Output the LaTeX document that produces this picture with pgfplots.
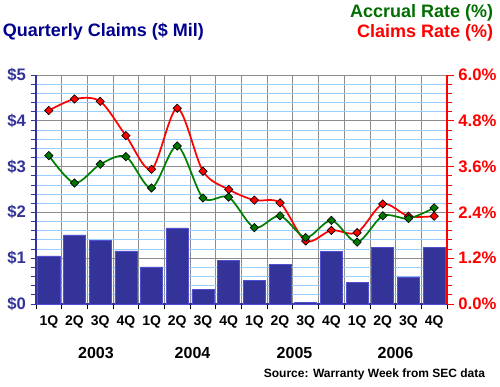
\documentclass[border=0pt]{standalone}
\usepackage{fontspec}
\setmainfont{Liberation Sans}
\usepackage{pgfplots}
\pgfplotsset{compat=1.18}
\definecolor{barblue}{RGB}{51,51,153}
\definecolor{baredge}{RGB}{80,80,210}
\definecolor{navy}{RGB}{0,0,140}
\definecolor{axblue}{RGB}{51,51,153}
\definecolor{accgreen}{RGB}{0,110,0}
\definecolor{linegreen}{RGB}{0,128,0}
\definecolor{markgreen}{RGB}{0,120,0}
\definecolor{gridgrey}{RGB}{140,140,140}
\definecolor{gridblue}{RGB}{153,204,255}
\begin{document}
\begin{tikzpicture}
\path[use as bounding box] (0,0) rectangle (375pt,289.5pt);
\begin{axis}[
  at={(27pt,61.5pt)}, anchor=south west, scale only axis,
  width=308.25pt, height=171.75pt,
  xmin=-0.5, xmax=15.5, ymin=0, ymax=5,
  axis y line*=left, axis x line*=bottom,
  axis line style={axblue, line width=0.8pt},
  xtick={0,...,15},
  xticklabels={1Q,2Q,3Q,4Q,1Q,2Q,3Q,4Q,1Q,2Q,3Q,4Q,1Q,2Q,3Q,4Q},
  major x tick style={draw=none},
  minor xtick={-0.5,0.5,...,15.5},
  minor x tick style={draw=black, line width=0.6pt},
  xminorgrids, minor x grid style={gridgrey, line width=0.6pt},
  ytick={0,...,5},
  minor y tick num=4,
  ymajorgrids, yminorgrids,
  major y grid style={gridgrey, line width=0.6pt},
  minor y grid style={gridblue, line width=0.6pt},
  y tick style={axblue, line width=0.6pt},
  tick align=outside,
  major tick length=4pt, minor tick length=4pt,
  /pgf/number format/assume math mode=true,
  yticklabel={\$\pgfmathprintnumber{\tick}},
  yticklabel style={font=\bfseries\fontsize{12.5}{14}\selectfont, text=axblue, xshift=0pt},
  xticklabel style={font=\bfseries\fontsize{10.5}{12}\selectfont, text=black, yshift=-1.5pt},
  clip=false,
]
\addplot[ybar, bar width=0.86, fill=barblue, draw=baredge, line width=0.5pt]
  coordinates {(0,1.05) (1,1.51) (2,1.38) (3,1.16) (4,0.81) (5,1.66) (6,0.31) (7,0.96)
               (8,0.52) (9,0.87) (10,0.04) (11,1.14) (12,0.48) (13,1.24) (14,0.59) (15,1.24)};
\end{axis}
\begin{axis}[
  at={(27pt,61.5pt)}, anchor=south west, scale only axis,
  width=308.25pt, height=171.75pt,
  xmin=-0.5, xmax=15.5, ymin=0, ymax=6,
  axis y line*=right, axis x line=none,
  axis line style={red, line width=0.8pt},
  ytick={0,1.2,2.4,3.6,4.8,6},
  minor y tick num=4,
  y tick style={red, line width=0.6pt},
  tick align=outside,
  major tick length=5pt, minor tick length=3.5pt,
  /pgf/number format/assume math mode=true,
  yticklabel={\pgfmathprintnumber[fixed,fixed zerofill,precision=1]{\tick}\%},
  yticklabel style={font=\bfseries\fontsize{12.5}{14}\selectfont, text=red, xshift=0pt},
  clip=false,
]
\addplot[red, line width=1.3pt, smooth, tension=0.5, mark=square*,
  mark size=2.2pt, mark options={rotate=45, fill=red, draw=black, line width=0.5pt}]
  coordinates {(0,5.07) (1,5.37) (2,5.31) (3,4.41) (4,3.53) (5,5.13) (6,3.48) (7,3.00)
               (8,2.72) (9,2.65) (10,1.65) (11,1.93) (12,1.87) (13,2.62) (14,2.30) (15,2.30)};
\addplot[linegreen, line width=1.3pt, smooth, tension=0.5, mark=square*,
  mark size=2.2pt, mark options={rotate=45, fill=markgreen, draw=black, line width=0.5pt}]
  coordinates {(0,3.89) (1,3.17) (2,3.66) (3,3.86) (4,3.04) (5,4.14) (6,2.78) (7,2.80)
               (8,2.00) (9,2.31) (10,1.74) (11,2.19) (12,1.62) (13,2.31) (14,2.24) (15,2.52)};
\end{axis}
\node[anchor=west, inner sep=0pt, font=\bfseries\fontsize{13.5}{15}\selectfont, text=navy] at (2pt,265.5pt) {Quarterly Claims (\$ Mil)};
\node[anchor=east, inner sep=0pt, font=\bfseries\fontsize{13.5}{15}\selectfont, text=accgreen] at (370pt,279.75pt) {Accrual Rate (\%)};
\node[anchor=east, inner sep=0pt, font=\bfseries\fontsize{13.5}{15}\selectfont, text=red] at (370pt,264.75pt) {Claims Rate (\%)};
\node[font=\bfseries\fontsize{12}{14}\selectfont] at (72pt,24.75pt) {2003};
\node[font=\bfseries\fontsize{12}{14}\selectfont] at (144.4pt,24.75pt) {2004};
\node[font=\bfseries\fontsize{12}{14}\selectfont] at (220.9pt,24.75pt) {2005};
\node[font=\bfseries\fontsize{12}{14}\selectfont] at (296.6pt,24.75pt) {2006};
\node[anchor=east, inner sep=0pt, font=\bfseries\fontsize{9}{11}\selectfont] at (364pt,9pt) {Source: Warranty Week from SEC data};
\end{tikzpicture}
\end{document}
